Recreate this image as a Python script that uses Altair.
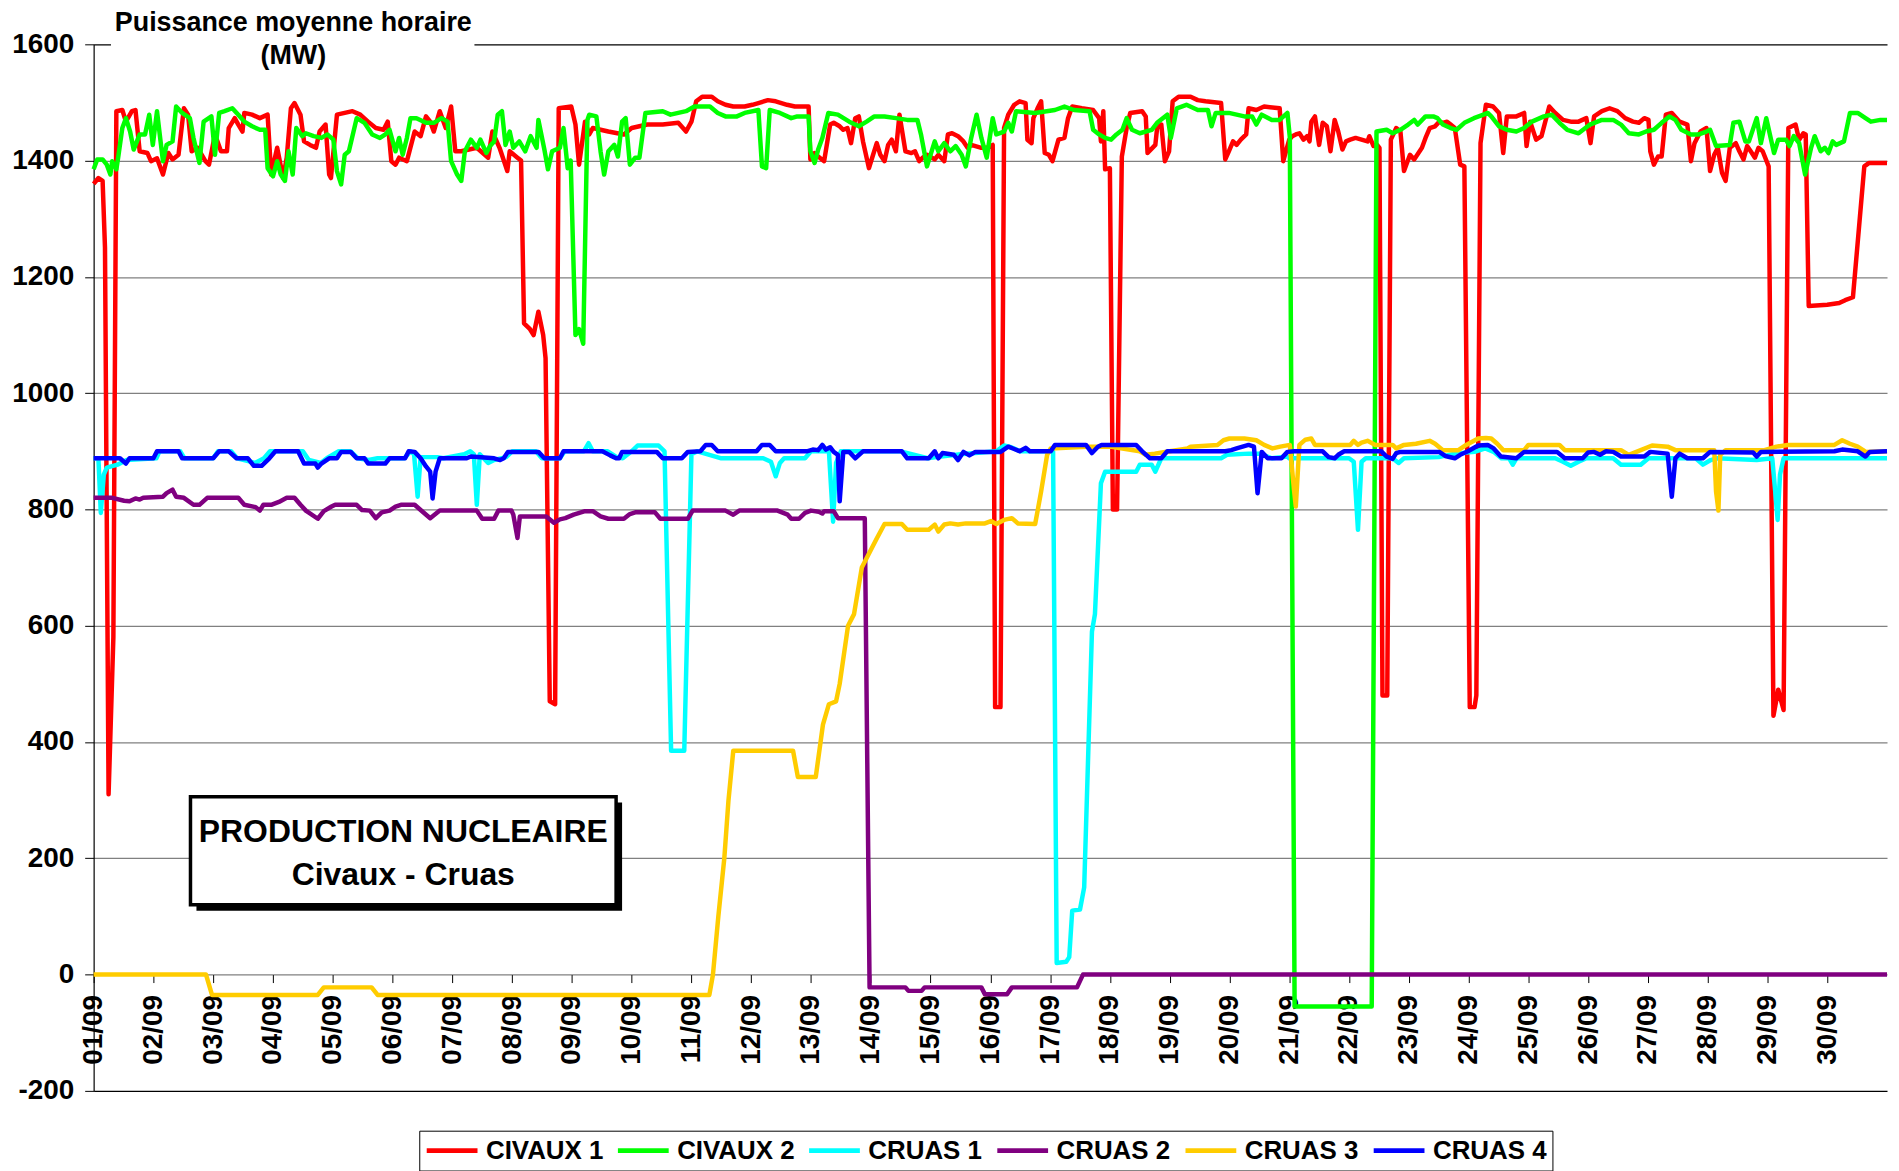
import altair as alt
import pandas as pd

# ---------------- data (day offset from 01/09 00:00, MW) ----------------
SERIES = ["CIVAUX 1", "CIVAUX 2", "CRUAS 1", "CRUAS 2", "CRUAS 3", "CRUAS 4"]
COLORS = ["#FF0000", "#00FF00", "#00FFFF", "#800080", "#FFCC00", "#0000FF"]
DAY_LABELS = ["%02d/09" % d for d in range(1, 31)]
Y_TICKS = [-200, 0, 200, 400, 600, 800, 1000, 1200, 1400, 1600]

CIVAUX1 = [(0.00,1360),(0.08,1370),(0.15,1365),(0.19,1250),(0.25,310),(0.33,580),(0.38,1485),(0.48,1487),(0.54,1467),(0.64,1485),(0.70,1487),(0.77,1416),(0.90,1413),(0.96,1399),(1.06,1404),(1.16,1376),(1.25,1413),(1.32,1402),(1.42,1410),(1.51,1490),(1.58,1479),(1.64,1416),(1.74,1422),(1.87,1399),(1.93,1393),(2.03,1445),(2.13,1416),(2.23,1416),(2.26,1456),(2.36,1473),(2.42,1462),(2.49,1450),(2.52,1482),(2.65,1479),(2.78,1473),(2.91,1479),(2.97,1376),(3.07,1422),(3.17,1370),(3.23,1405),(3.30,1490),(3.36,1499),(3.46,1479),(3.52,1433),(3.62,1427),(3.72,1422),(3.78,1450),(3.88,1462),(3.94,1376),(3.97,1370),(4.07,1479),(4.20,1482),(4.33,1485),(4.46,1479),(4.59,1467),(4.72,1456),(4.85,1453),(4.92,1467),(4.98,1399),(5.05,1393),(5.11,1405),(5.24,1399),(5.37,1450),(5.47,1442),(5.56,1476),(5.63,1467),(5.69,1450),(5.79,1485),(5.89,1456),(5.98,1493),(6.05,1416),(6.15,1416),(6.41,1422),(6.60,1405),(6.67,1450),(6.79,1422),(6.92,1382),(6.96,1416),(7.09,1405),(7.15,1400),(7.20,1120),(7.30,1110),(7.36,1100),(7.44,1140),(7.52,1100),(7.56,1060),(7.63,470),(7.72,465),(7.78,1490),(7.99,1493),(8.06,1462),(8.12,1393),(8.22,1467),(8.29,1445),(8.35,1456),(8.48,1453),(8.61,1450),(8.87,1445),(9.00,1456),(9.26,1462),(9.52,1462),(9.78,1465),(9.91,1450),(10.00,1467),(10.08,1502),(10.18,1510),(10.34,1510),(10.44,1502),(10.57,1496),(10.70,1493),(10.89,1493),(11.02,1496),(11.12,1499),(11.28,1504),(11.41,1502),(11.60,1496),(11.73,1493),(11.96,1493),(11.99,1402),(12.06,1413),(12.12,1407),(12.22,1399),(12.32,1462),(12.38,1465),(12.48,1459),(12.54,1453),(12.61,1456),(12.67,1430),(12.74,1473),(12.80,1476),(12.87,1433),(12.97,1387),(13.03,1407),(13.10,1430),(13.16,1410),(13.23,1399),(13.29,1427),(13.35,1436),(13.42,1416),(13.48,1479),(13.58,1416),(13.68,1413),(13.74,1416),(13.81,1399),(13.87,1405),(13.94,1410),(14.07,1402),(14.13,1410),(14.23,1399),(14.29,1445),(14.36,1447),(14.46,1442),(14.55,1433),(14.62,1422),(14.68,1427),(14.85,1422),(14.94,1422),(15.04,1427),(15.08,460),(15.17,460),(15.23,1456),(15.30,1479),(15.40,1496),(15.49,1502),(15.59,1499),(15.62,1436),(15.69,1430),(15.72,1473),(15.79,1490),(15.85,1502),(15.91,1413),(15.98,1410),(16.04,1399),(16.14,1436),(16.24,1439),(16.30,1473),(16.37,1493),(16.53,1490),(16.72,1487),(16.82,1473),(16.85,1433),(16.89,1485),(16.92,1385),(17.00,1387),(17.05,800),(17.12,800),(17.20,1407),(17.28,1456),(17.34,1482),(17.54,1485),(17.60,1476),(17.63,1413),(17.76,1427),(17.79,1456),(17.86,1462),(17.92,1399),(17.99,1416),(18.05,1502),(18.15,1510),(18.35,1510),(18.47,1504),(18.60,1502),(18.86,1499),(18.93,1402),(18.99,1416),(19.06,1433),(19.12,1427),(19.19,1436),(19.28,1445),(19.32,1490),(19.45,1487),(19.58,1493),(19.84,1490),(19.90,1399),(20.00,1436),(20.05,1442),(20.11,1445),(20.17,1447),(20.24,1436),(20.30,1442),(20.34,1433),(20.37,1467),(20.43,1476),(20.50,1427),(20.56,1465),(20.63,1459),(20.69,1416),(20.76,1470),(20.82,1450),(20.89,1419),(20.95,1433),(21.02,1436),(21.11,1439),(21.21,1436),(21.31,1433),(21.34,1442),(21.41,1425),(21.47,1427),(21.51,1422),(21.56,480),(21.64,480),(21.70,1436),(21.79,1456),(21.86,1450),(21.92,1382),(22.02,1410),(22.09,1402),(22.22,1422),(22.28,1439),(22.35,1456),(22.44,1459),(22.51,1467),(22.57,1465),(22.64,1467),(22.70,1462),(22.77,1456),(22.86,1393),(22.93,1390),(23.02,460),(23.10,460),(23.13,480),(23.20,1430),(23.29,1496),(23.41,1493),(23.51,1482),(23.58,1413),(23.64,1476),(23.80,1476),(23.93,1482),(23.97,1425),(24.03,1467),(24.13,1436),(24.22,1442),(24.35,1493),(24.45,1482),(24.58,1470),(24.71,1467),(24.84,1467),(24.97,1473),(25.04,1430),(25.10,1476),(25.23,1485),(25.36,1490),(25.49,1485),(25.62,1473),(25.75,1467),(25.85,1465),(25.94,1473),(26.01,1470),(26.04,1416),(26.10,1393),(26.17,1407),(26.23,1407),(26.30,1479),(26.40,1482),(26.53,1467),(26.66,1462),(26.72,1399),(26.78,1430),(26.88,1450),(26.98,1456),(27.04,1382),(27.11,1410),(27.17,1422),(27.24,1379),(27.30,1365),(27.37,1422),(27.47,1430),(27.53,1416),(27.60,1402),(27.66,1425),(27.72,1416),(27.79,1405),(27.85,1422),(27.92,1416),(28.02,1390),(28.10,445),(28.18,490),(28.27,455),(28.35,1456),(28.47,1462),(28.53,1436),(28.60,1447),(28.64,1445),(28.69,1150),(29.00,1152),(29.20,1155),(29.30,1160),(29.43,1165),(29.62,1390),(29.70,1396),(30.00,1396)]

CIVAUX2 = [(0.00,1385),(0.06,1402),(0.15,1402),(0.22,1393),(0.28,1376),(0.31,1399),(0.38,1385),(0.41,1405),(0.48,1456),(0.54,1473),(0.61,1450),(0.67,1419),(0.77,1445),(0.86,1445),(0.93,1479),(0.99,1427),(1.06,1485),(1.12,1433),(1.16,1399),(1.22,1427),(1.32,1433),(1.38,1493),(1.48,1482),(1.61,1473),(1.67,1439),(1.77,1396),(1.84,1467),(1.97,1476),(2.03,1410),(2.10,1482),(2.19,1485),(2.32,1490),(2.42,1479),(2.52,1467),(2.65,1459),(2.78,1453),(2.87,1453),(2.91,1387),(3.00,1373),(3.07,1399),(3.13,1376),(3.20,1365),(3.26,1416),(3.33,1376),(3.39,1456),(3.49,1442),(3.55,1447),(3.68,1442),(3.81,1439),(3.91,1445),(4.01,1436),(4.07,1382),(4.14,1359),(4.20,1410),(4.27,1416),(4.40,1473),(4.53,1465),(4.66,1445),(4.79,1439),(4.88,1445),(4.95,1453),(5.05,1416),(5.11,1439),(5.17,1410),(5.24,1439),(5.30,1473),(5.40,1473),(5.56,1465),(5.69,1465),(5.82,1473),(5.92,1467),(5.98,1399),(6.08,1376),(6.15,1365),(6.21,1416),(6.31,1436),(6.41,1422),(6.47,1436),(6.57,1413),(6.63,1425),(6.70,1433),(6.76,1479),(6.83,1485),(6.89,1427),(6.96,1450),(7.02,1422),(7.12,1433),(7.22,1416),(7.31,1442),(7.41,1422),(7.44,1470),(7.54,1419),(7.60,1385),(7.67,1416),(7.80,1422),(7.86,1456),(7.93,1387),(7.98,1400),(8.06,1100),(8.12,1110),(8.19,1085),(8.26,1470),(8.29,1479),(8.41,1476),(8.48,1416),(8.54,1376),(8.61,1416),(8.71,1427),(8.77,1407),(8.84,1467),(8.90,1473),(8.97,1393),(9.06,1405),(9.13,1405),(9.23,1482),(9.52,1485),(9.65,1479),(9.78,1482),(9.91,1485),(10.05,1493),(10.31,1493),(10.44,1482),(10.57,1476),(10.76,1476),(10.89,1482),(11.12,1487),(11.18,1390),(11.25,1387),(11.31,1487),(11.48,1482),(11.67,1473),(11.77,1476),(11.96,1476),(11.99,1416),(12.06,1396),(12.12,1419),(12.19,1439),(12.29,1482),(12.45,1479),(12.64,1467),(12.80,1459),(12.93,1467),(13.06,1476),(13.23,1476),(13.42,1473),(13.61,1470),(13.78,1470),(13.84,1445),(13.94,1390),(14.07,1433),(14.13,1416),(14.23,1430),(14.33,1416),(14.42,1425),(14.52,1410),(14.59,1390),(14.68,1439),(14.77,1479),(14.85,1439),(14.94,1405),(15.04,1473),(15.10,1445),(15.23,1450),(15.30,1465),(15.36,1450),(15.43,1485),(15.75,1482),(16.08,1487),(16.24,1493),(16.40,1487),(16.66,1485),(16.72,1453),(16.82,1445),(16.92,1439),(17.02,1436),(17.11,1445),(17.21,1453),(17.28,1473),(17.37,1453),(17.50,1447),(17.70,1453),(17.79,1465),(17.96,1479),(18.02,1439),(18.12,1490),(18.28,1496),(18.47,1487),(18.64,1487),(18.70,1459),(18.77,1482),(18.99,1482),(19.25,1476),(19.38,1476),(19.45,1462),(19.54,1479),(19.71,1470),(19.84,1470),(19.97,1482),(20.01,1440),(20.09,-55),(21.38,-55),(21.46,1450),(21.63,1453),(21.73,1447),(21.86,1453),(21.99,1462),(22.09,1470),(22.15,1462),(22.28,1476),(22.41,1476),(22.48,1473),(22.57,1462),(22.70,1456),(22.80,1453),(22.93,1465),(23.09,1473),(23.25,1479),(23.32,1482),(23.38,1476),(23.51,1459),(23.64,1453),(23.80,1450),(23.93,1456),(24.06,1467),(24.26,1476),(24.39,1479),(24.52,1465),(24.65,1453),(24.84,1447),(25.03,1462),(25.23,1470),(25.42,1470),(25.55,1462),(25.68,1447),(25.85,1445),(25.97,1450),(26.10,1453),(26.23,1465),(26.36,1476),(26.46,1470),(26.56,1453),(26.72,1445),(26.85,1445),(26.98,1450),(27.04,1453),(27.14,1425),(27.37,1427),(27.43,1465),(27.53,1467),(27.63,1433),(27.69,1433),(27.82,1473),(27.89,1430),(27.98,1473),(28.11,1413),(28.18,1436),(28.31,1436),(28.37,1425),(28.44,1442),(28.53,1430),(28.63,1376),(28.73,1422),(28.79,1442),(28.89,1416),(28.96,1422),(29.02,1413),(29.09,1433),(29.15,1427),(29.28,1433),(29.38,1482),(29.51,1482),(29.64,1473),(29.73,1467),(29.89,1470),(30.00,1470)]

CRUAS1 = [(0.00,888),(0.08,888),(0.12,794),(0.17,860),(0.22,872),(0.40,877),(0.55,885),(1.05,888),(1.10,900),(1.45,900),(1.52,888),(2.00,888),(2.08,900),(2.30,900),(2.40,888),(2.70,880),(2.85,888),(2.95,900),(3.50,900),(3.60,885),(3.80,880),(3.90,888),(4.10,900),(4.30,900),(4.42,888),(4.60,885),(4.75,888),(5.20,888),(5.30,900),(5.36,895),(5.42,822),(5.47,890),(5.75,890),(5.85,888),(6.20,895),(6.30,900),(6.36,895),(6.41,808),(6.46,895),(6.60,880),(6.70,885),(6.90,890),(7.00,900),(7.40,900),(7.50,888),(7.80,888),(7.88,900),(8.20,900),(8.28,914),(8.35,900),(8.60,900),(8.75,890),(8.85,888),(9.00,900),(9.10,910),(9.45,910),(9.55,900),(9.66,385),(9.88,385),(10.00,895),(10.10,900),(10.50,888),(11.20,888),(11.33,882),(11.41,857),(11.48,880),(11.55,888),(11.90,888),(12.00,900),(12.30,900),(12.37,779),(12.42,880),(12.50,900),(13.50,900),(13.95,888),(14.10,890),(14.50,895),(15.10,900),(15.23,910),(15.35,907),(15.50,900),(16.05,900),(16.11,20),(16.27,22),(16.32,30),(16.37,110),(16.50,112),(16.57,150),(16.70,590),(16.75,620),(16.85,845),(16.92,865),(17.44,865),(17.50,877),(17.70,877),(17.76,865),(17.86,888),(18.86,888),(18.96,894),(19.32,896),(19.51,896),(19.71,888),(19.97,891),(20.00,888),(21.00,888),(21.08,882),(21.15,765),(21.21,882),(21.28,888),(21.73,888),(21.83,880),(21.92,888),(22.50,890),(22.77,896),(23.10,899),(23.28,905),(23.42,899),(23.55,888),(23.68,888),(23.74,877),(23.80,888),(24.45,888),(24.58,882),(24.71,875),(24.84,882),(24.97,888),(25.42,888),(25.55,877),(25.88,877),(26.01,888),(26.80,888),(26.92,877),(27.05,885),(27.15,888),(27.82,885),(28.08,888),(28.13,831),(28.17,782),(28.21,860),(28.27,888),(30.00,888)]

CRUAS2 = [(0.00,820),(0.31,820),(0.51,815),(0.60,814),(0.70,819),(0.77,817),(0.83,820),(1.16,822),(1.22,828),(1.32,834),(1.38,822),(1.51,820),(1.67,808),(1.77,808),(1.90,820),(2.42,820),(2.52,808),(2.71,804),(2.78,798),(2.84,808),(2.97,808),(3.10,813),(3.23,820),(3.36,820),(3.46,808),(3.55,798),(3.75,784),(3.85,797),(3.98,805),(4.04,808),(4.40,808),(4.49,799),(4.62,798),(4.72,785),(4.82,795),(4.95,798),(5.05,805),(5.14,808),(5.37,808),(5.47,799),(5.63,785),(5.79,798),(6.41,798),(6.50,784),(6.70,784),(6.77,798),(6.99,798),(7.02,791),(7.09,751),(7.13,788),(7.57,788),(7.70,777),(7.80,783),(7.89,785),(8.03,791),(8.22,797),(8.35,797),(8.48,788),(8.61,784),(8.87,784),(8.97,792),(9.06,795),(9.39,795),(9.48,784),(9.94,784),(10.02,798),(10.57,798),(10.70,791),(10.80,798),(11.44,798),(11.61,791),(11.67,784),(11.80,784),(11.90,794),(12.00,798),(12.13,796),(12.19,793),(12.22,797),(12.38,797),(12.45,785),(12.90,785),(12.98,-22),(13.58,-22),(13.63,-28),(13.85,-28),(13.90,-22),(14.85,-22),(14.91,-34),(15.28,-34),(15.36,-22),(16.45,-22),(16.55,0),(30.00,0)]

CRUAS3 = [(0.00,0),(1.88,0),(1.98,-35),(3.75,-35),(3.85,-22),(4.65,-22),(4.75,-35),(10.30,-35),(10.36,0),(10.45,100),(10.55,200),(10.62,300),(10.70,385),(11.70,385),(11.78,340),(12.08,340),(12.20,430),(12.30,465),(12.42,470),(12.48,500),(12.62,600),(12.72,620),(12.85,700),(13.10,750),(13.23,775),(13.52,775),(13.61,765),(13.97,765),(14.07,774),(14.13,762),(14.23,774),(14.33,776),(14.46,774),(14.59,776),(14.91,776),(15.01,780),(15.10,775),(15.23,782),(15.36,785),(15.46,776),(15.75,775),(15.79,797),(15.85,831),(15.95,894),(16.01,905),(16.60,908),(17.00,908),(17.50,900),(17.60,894),(17.75,896),(18.00,900),(18.30,905),(18.35,908),(18.80,911),(18.90,919),(19.00,922),(19.25,922),(19.45,919),(19.58,911),(19.72,905),(19.85,908),(20.01,911),(20.08,834),(20.11,805),(20.17,911),(20.27,920),(20.37,922),(20.43,911),(21.02,911),(21.08,918),(21.15,911),(21.21,915),(21.31,918),(21.44,911),(21.73,911),(21.79,905),(21.92,911),(22.12,913),(22.35,918),(22.44,913),(22.57,902),(22.83,902),(22.96,911),(23.16,922),(23.29,923),(23.38,922),(23.48,913),(23.58,902),(23.93,902),(24.00,911),(24.52,911),(24.61,902),(25.55,902),(25.68,894),(25.88,902),(26.07,910),(26.33,908),(26.46,902),(27.11,902),(27.14,831),(27.18,798),(27.21,894),(27.30,902),(27.95,902),(28.15,908),(28.34,911),(29.12,911),(29.25,919),(29.38,913),(29.51,908),(29.60,902),(29.64,899),(30.00,900)]

CRUAS4 = [(0.00,888),(0.44,888),(0.54,879),(0.60,888),(1.00,888),(1.06,900),(1.42,900),(1.48,888),(2.00,888),(2.10,900),(2.26,900),(2.39,888),(2.58,888),(2.68,875),(2.81,875),(2.94,888),(3.04,900),(3.42,900),(3.52,879),(3.71,879),(3.75,872),(3.81,879),(3.94,888),(4.07,888),(4.14,899),(4.30,899),(4.40,888),(4.53,888),(4.59,879),(4.88,879),(4.95,888),(5.21,888),(5.27,900),(5.37,899),(5.47,888),(5.56,874),(5.63,865),(5.67,819),(5.72,865),(5.79,888),(6.24,888),(6.31,891),(6.70,888),(6.80,885),(6.86,888),(6.93,899),(7.44,899),(7.54,888),(7.80,888),(7.86,900),(8.51,900),(8.64,893),(8.74,888),(8.79,888),(8.84,899),(9.42,899),(9.52,888),(9.84,888),(9.94,899),(10.15,900),(10.24,911),(10.34,911),(10.44,900),(11.09,900),(11.18,911),(11.31,911),(11.41,900),(11.93,900),(12.03,903),(12.12,902),(12.19,911),(12.25,903),(12.32,907),(12.38,899),(12.45,894),(12.48,814),(12.54,899),(12.64,899),(12.74,888),(12.87,900),(13.52,900),(13.61,888),(13.97,888),(14.07,900),(14.13,888),(14.20,897),(14.39,894),(14.46,885),(14.55,899),(14.65,893),(14.75,899),(15.17,899),(15.30,908),(15.40,904),(15.49,900),(15.59,906),(15.66,900),(16.01,900),(16.08,911),(16.60,911),(16.70,897),(16.80,908),(16.86,911),(17.44,911),(17.54,900),(17.67,888),(17.86,888),(17.96,900),(18.93,900),(19.03,902),(19.12,905),(19.32,911),(19.41,908),(19.47,828),(19.54,899),(19.64,888),(19.87,888),(19.97,899),(20.08,900),(20.56,900),(20.66,890),(20.76,888),(20.82,894),(20.92,900),(21.54,900),(21.63,891),(21.73,887),(21.79,897),(21.86,899),(22.51,899),(22.61,892),(22.77,888),(22.86,894),(22.99,900),(23.16,910),(23.32,911),(23.42,905),(23.54,891),(23.80,888),(23.93,899),(24.48,899),(24.61,888),(24.91,888),(25.00,898),(25.10,899),(25.20,894),(25.30,900),(25.42,899),(25.55,891),(25.94,891),(26.04,899),(26.33,896),(26.40,822),(26.46,888),(26.53,896),(26.66,888),(26.92,888),(27.04,899),(27.76,898),(27.82,891),(27.89,899),(29.12,900),(29.25,903),(29.51,900),(29.64,891),(29.71,899),(30.00,900)]

# ---------------- table ----------------
rows = []
for name, pts in zip(SERIES, [CIVAUX1, CIVAUX2, CRUAS1, CRUAS2, CRUAS3, CRUAS4]):
    for i, (d, v) in enumerate(pts):
        rows.append({"serie": name, "jour": d, "mw": v, "ordre": i})
df = pd.DataFrame(rows)

W, H = 1801, 1051
FONT = "Liberation Sans"
label_expr = "[" + ",".join("'%s'" % s for s in DAY_LABELS) + "][datum.value]"

xscale = alt.Scale(domain=[0, 30], nice=False, zero=False)
yscale = alt.Scale(domain=[-200, 1600], nice=False, zero=False)

x_axis = alt.Axis(
    values=list(range(30)), labelExpr=label_expr, labelAngle=270,
    labelAlign="right", labelBaseline="middle",
    labelFont=FONT, labelFontWeight="bold", labelFontSize=28, labelColor="black",
    labelPadding=12, tickSize=8, tickColor="black", tickWidth=1,
    domain=False, grid=False, offset=-H * 200 / 1800, title=None,
    labelOverlap=False, labelFlush=False, labelBound=False)

y_axis = alt.Axis(
    values=Y_TICKS, labelExpr="'' + datum.value",
    labelFont=FONT, labelFontWeight="bold", labelFontSize=28,
    labelColor="black", labelPadding=11, tickSize=9, tickColor="black",
    domainColor="black", domainWidth=1.2,
    gridColor=alt.condition("datum.value == -200 || datum.value == 1600",
                            alt.value("black"), alt.value("#808080")),
    gridWidth=1.3, title=None, labelOverlap=False, labelFlush=False)

legend = alt.Legend(
    orient="none", legendX=327, legendY=1091, direction="horizontal", columns=6,
    title=None, symbolType="stroke", symbolSize=2601, symbolStrokeWidth=5,
    clipHeight=30,
    labelFont=FONT, labelFontWeight="bold", labelFontSize=26, labelColor="black",
    labelOffset=6, columnPadding=12, padding=5, strokeColor="black",
    fillColor="white", labelLimit=400)

lines = alt.Chart(df).mark_line(strokeWidth=4.5, strokeJoin="round").encode(
    x=alt.X("jour:Q", scale=xscale, axis=x_axis),
    y=alt.Y("mw:Q", scale=yscale, axis=y_axis),
    color=alt.Color("serie:N", scale=alt.Scale(domain=SERIES, range=COLORS),
                    sort=SERIES, legend=legend),
    order="ordre:Q")

# ---------------- annotations (data coordinates) ----------------
def xe(f):
    return alt.X(f, scale=xscale, axis=x_axis)

def ye(f):
    return alt.Y(f, scale=yscale, axis=y_axis)

title_bg = alt.Chart(pd.DataFrame([{"a": 0.29, "b": 6.37, "c": 1565, "d": 1660}])).mark_rect(
    fill="white").encode(x=xe("a:Q"), x2="b:Q", y=ye("c:Q"), y2="d:Q")

title_txt = alt.Chart(pd.DataFrame([
    {"t": "Puissance moyenne horaire", "px": 3.34, "py": 1637},
    {"t": "(MW)", "px": 3.34, "py": 1580}])).mark_text(
    font=FONT, fontWeight="bold", fontSize=27, color="black",
    align="center", baseline="middle").encode(
    x=xe("px:Q"), y=ye("py:Q"), text="t:N")

shadow = alt.Chart(pd.DataFrame([{"a": 1.72, "b": 8.84, "c": 296, "d": 110}])).mark_rect(
    fill="black").encode(x=xe("a:Q"), x2="b:Q", y=ye("c:Q"), y2="d:Q")

box = alt.Chart(pd.DataFrame([{"a": 1.62, "b": 8.74, "c": 306, "d": 120}])).mark_rect(
    fill="white", stroke="black", strokeWidth=3.5).encode(
    x=xe("a:Q"), x2="b:Q", y=ye("c:Q"), y2="d:Q")

box_txt = alt.Chart(pd.DataFrame([
    {"t": "PRODUCTION NUCLEAIRE", "px": 5.18, "py": 245},
    {"t": "Civaux - Cruas", "px": 5.18, "py": 172}])).mark_text(
    font=FONT, fontWeight="bold", fontSize=32, color="black",
    align="center", baseline="middle").encode(
    x=xe("px:Q"), y=ye("py:Q"), text="t:N")

chart = alt.layer(lines, title_bg, title_txt, shadow, box, box_txt).properties(
    width=W, height=H,
    autosize=alt.AutoSizeParams(type="none"),
    padding={"left": 86, "top": 34, "right": 4, "bottom": 78},
    background="white",
).configure_view(strokeWidth=0)

chart.save("out.html", embed_options={"renderer": "svg", "actions": False})
